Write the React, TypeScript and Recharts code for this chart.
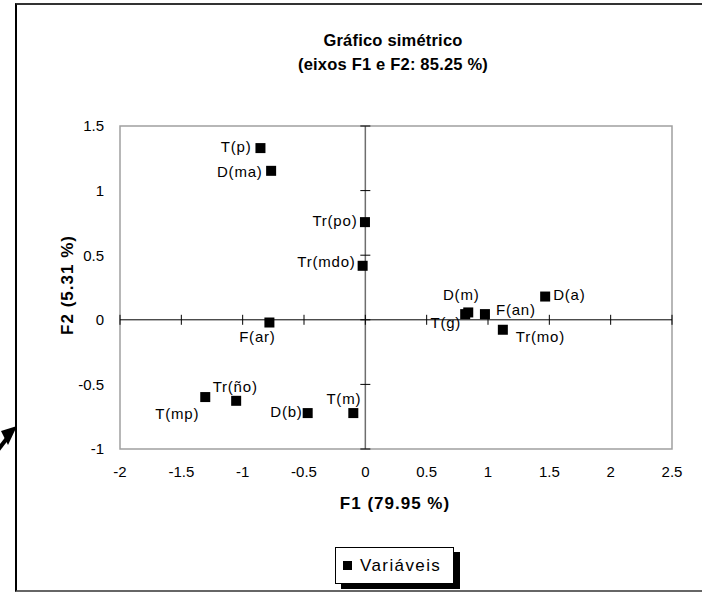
import React from 'react';
import { ScatterChart, Scatter, XAxis, YAxis, ReferenceLine, ReferenceArea, ReferenceDot } from 'recharts';

const names = ['T(p)', 'D(ma)', 'Tr(po)', 'Tr(mdo)', 'F(ar)', 'D(m)', 'T(g)', 'F(an)', 'Tr(mo)', 'D(a)', 'T(mp)', 'Tr(ño)', 'D(b)', 'T(m)'];
const f1 = [-0.855, -0.768, -0.003, -0.022, -0.782, 0.839, 0.814, 0.975, 1.121, 1.466, -1.305, -1.053, -0.47, -0.098];
const f2 = [1.329, 1.153, 0.756, 0.418, -0.021, 0.057, 0.044, 0.044, -0.077, 0.18, -0.598, -0.627, -0.722, -0.722];
const xTicks = [-2, -1.5, -1, -0.5, 0, 0.5, 1, 1.5, 2, 2.5];
const yTicks = [-1, -0.5, 0, 0.5, 1, 1.5];

const titleLine1 = 'Gráfico simétrico';
const titleLine2 = '(eixos F1 e F2: 85.25 %)';
const xTitle = 'F1 (79.95 %)';
const yTitle = 'F2 (5.31 %)';
const seriesName = 'Variáveis';

type Place = { dx: number; dy: number; anchor: 'start' | 'middle' | 'end' };
const labelPlacement: Record<string, Place> = {
  'T(p)': { dx: -9, dy: -2, anchor: 'end' },
  'D(ma)': { dx: -8.5, dy: 1, anchor: 'end' },
  'Tr(po)': { dx: -7.5, dy: -2, anchor: 'end' },
  'Tr(mdo)': { dx: -7, dy: -4, anchor: 'end' },
  'F(ar)': { dx: -12, dy: 14, anchor: 'middle' },
  'D(m)': { dx: -7, dy: -18, anchor: 'middle' },
  'T(g)': { dx: -4, dy: 8, anchor: 'end' },
  'F(an)': { dx: 11, dy: -5, anchor: 'start' },
  'Tr(mo)': { dx: 13, dy: 7, anchor: 'start' },
  'D(a)': { dx: 8, dy: -2, anchor: 'start' },
  'T(mp)': { dx: -6, dy: 16, anchor: 'end' },
  'Tr(ño)': { dx: -1, dy: -14, anchor: 'middle' },
  'D(b)': { dx: -5, dy: -2, anchor: 'end' },
  'T(m)': { dx: -9.5, dy: -15, anchor: 'middle' },
};

const data = names.map((name, i) => ({ name, x: f1[i], y: f2[i] }));

const FONT = '"Liberation Sans", Arial, sans-serif';

const PointShape = (props: any) => {
  const { cx, cy, payload } = props;
  const p = labelPlacement[payload.name] || { dx: 8, dy: 0, anchor: 'start' };
  return (
    <g>
      <rect x={cx - 5} y={cy - 5} width={10} height={10} fill="#000" />
      <text
        x={cx + p.dx}
        y={cy + p.dy}
        textAnchor={p.anchor}
        dominantBaseline="central"
        fontSize={15}
        fontFamily={FONT}
        fill="#000"
        style={{ letterSpacing: '0.8px' }}
      >
        {payload.name}
      </text>
    </g>
  );
};

const XTickMark = (props: any) => (
  <line x1={props.cx} y1={props.cy - 5} x2={props.cx} y2={props.cy + 5} stroke="#000" strokeWidth={1} />
);
const YTickMark = (props: any) => (
  <line x1={props.cx - 5} y1={props.cy} x2={props.cx + 5} y2={props.cy} stroke="#000" strokeWidth={1} />
);

export default function App() {
  return (
    <div style={{ position: 'absolute', left: 0, top: 0, width: 702, height: 592, background: '#fff', overflow: 'hidden', fontFamily: FONT }}>
      {/* outer frame */}
      <div style={{ position: 'absolute', left: 15, top: 3, width: 720, height: 585, borderLeft: '2px solid #000', borderTop: '2px solid #333', borderBottom: '2px solid #666' }} />
      {/* arrow decoration */}
      <svg style={{ position: 'absolute', left: 0, top: 0 }} width={702} height={592}>
        <polygon points="17,426 1,431 8,445" fill="#000" />
        <line x1={-2} y1={450} x2={8} y2={437} stroke="#000" strokeWidth={4} />
      </svg>
      <div style={{ position: 'absolute', left: 0, top: 0 }}>
        <ScatterChart width={702} height={592} margin={{ top: 126, right: 30, bottom: 113, left: 60 }}>
          <XAxis
            type="number"
            dataKey="x"
            domain={[xTicks[0], xTicks[xTicks.length - 1]]}
            ticks={xTicks}
            axisLine={false}
            tickLine={false}
            tickSize={0}
            tickMargin={17}
            height={30}
            interval={0}
            tick={{ fontSize: 15, fill: '#000', fontFamily: FONT }}
          />
          <YAxis
            type="number"
            dataKey="y"
            domain={[yTicks[0], yTicks[yTicks.length - 1]]}
            ticks={yTicks}
            axisLine={false}
            tickLine={false}
            tickSize={0}
            tickMargin={16}
            width={60}
            interval={0}
            tick={{ fontSize: 15, fill: '#000', fontFamily: FONT }}
          />
          <ReferenceArea
            x1={xTicks[0]}
            x2={xTicks[xTicks.length - 1]}
            y1={yTicks[0]}
            y2={yTicks[yTicks.length - 1]}
            fill="none"
            fillOpacity={0}
            stroke="#a0a0a0"
            strokeWidth={1.5}
          />
          <ReferenceLine y={0} stroke="#000" strokeWidth={1} />
          <ReferenceLine x={0} stroke="#6e6e6e" strokeWidth={1.5} />
          {xTicks.map((v) => (
            <ReferenceDot key={'xt' + v} x={v} y={0} r={5} shape={XTickMark} />
          ))}
          {yTicks.map((v) => (
            <ReferenceDot key={'yt' + v} x={0} y={v} r={5} shape={YTickMark} />
          ))}
          <Scatter name={seriesName} data={data} shape={PointShape} isAnimationActive={false} />
        </ScatterChart>
      </div>
      {/* title */}
      <div style={{ position: 'absolute', left: 193, width: 400, top: 28, textAlign: 'center', fontWeight: 'bold', fontSize: 16.5, lineHeight: '24px', letterSpacing: '0.2px', color: '#000' }}>
        <div>{titleLine1}</div>
        <div>{titleLine2}</div>
      </div>
      {/* x axis title */}
      <div style={{ position: 'absolute', left: 295, width: 200, top: 492, textAlign: 'center', fontWeight: 'bold', fontSize: 17, lineHeight: '24px', letterSpacing: '1px', color: '#000' }}>
        {xTitle}
      </div>
      {/* y axis title */}
      <div style={{ position: 'absolute', left: 68, top: 285, width: 0, height: 0 }}>
        <div style={{ position: 'absolute', left: -100, top: -12, width: 200, textAlign: 'center', transform: 'rotate(-90deg)', fontWeight: 'bold', fontSize: 17, lineHeight: '24px', letterSpacing: '1px', color: '#000' }}>
          {yTitle}
        </div>
      </div>
      {/* legend */}
      <div style={{ position: 'absolute', left: 341, top: 552, width: 119, height: 37, background: '#000' }} />
      <div style={{ position: 'absolute', left: 335, top: 547, width: 117, height: 35, background: '#fff', border: '1px solid #000', display: 'flex', alignItems: 'center' }}>
        <div style={{ width: 9, height: 9, background: '#000', marginLeft: 7, marginRight: 8 }} />
        <span style={{ fontSize: 17, letterSpacing: '1.4px', color: '#000' }}>{seriesName}</span>
      </div>
    </div>
  );
}
